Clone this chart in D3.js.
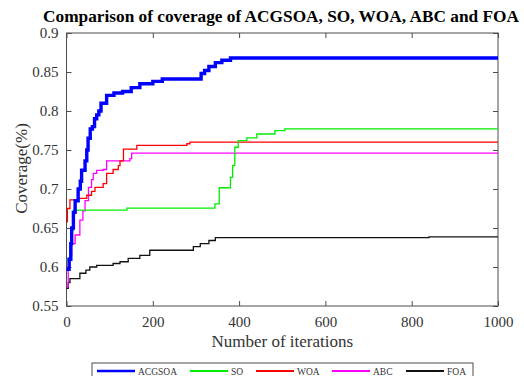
<!DOCTYPE html>
<html>
<head>
<meta charset="utf-8">
<script src="https://cdn.jsdelivr.net/npm/d3@7"></script>
<style>
  body { margin: 0; background: #fff; }
</style>
</head>
<body>
<div class="chart"></div>
<script>
// chart text
var titleText = "Comparison of coverage of ACGSOA, SO, WOA, ABC and FOA";
var xLabel = "Number of iterations";
var yLabel = "Coverage(%)";
var xTicks = [0, 200, 400, 600, 800, 1000];
var yTicks = [0.55, 0.6, 0.65, 0.7, 0.75, 0.8, 0.85, 0.9];
var names = ["ACGSOA", "SO", "WOA", "ABC", "FOA"];
var colors = ["#0000ff", "#00ee00", "#ff0000", "#ff00ff", "#111111"];
var widths = [3.4, 1.3, 1.3, 1.3, 1.3];

// [iteration, coverage]
var acgsoa = [[0,0.597],[6,0.61],[10,0.63],[12,0.65],[16,0.67],[20,0.685],[27,0.70],[32,0.71],[35,0.724],
  [43,0.736],[47,0.75],[50,0.765],[55,0.777],[60,0.78],[65,0.79],[70,0.795],[75,0.80],[80,0.81],
  [93,0.82],[110,0.823],[130,0.825],[150,0.83],[170,0.835],[200,0.838],[222,0.841],[305,0.841],
  [312,0.848],[320,0.852],[330,0.857],[345,0.862],[360,0.865],[380,0.868],[1000,0.868]];
var so = [[0,0.609],[8,0.63],[12,0.647],[16,0.673],[140,0.6755],[344,0.681],[354,0.7016],[380,0.715],
  [385,0.73],[390,0.7535],[398,0.762],[418,0.7655],[441,0.7705],[483,0.7748],[506,0.777],[1000,0.777]];
var woa = [[0,0.658],[2,0.675],[8,0.686],[27,0.688],[47,0.692],[58,0.697],[66,0.702],[85,0.707],
  [93,0.72],[108,0.725],[120,0.73],[124,0.736],[132,0.751],[163,0.756],[279,0.758],[286,0.76],[1000,0.76]];
var abc = [[0,0.575],[4,0.60],[8,0.615],[12,0.63],[20,0.641],[31,0.66],[38,0.672],[43,0.685],
  [51,0.702],[58,0.712],[62,0.72],[70,0.724],[85,0.725],[93,0.736],[147,0.739],[151,0.746],[1000,0.746]];
var foa = [[0,0.5725],[4,0.58],[8,0.585],[31,0.592],[45,0.596],[54,0.60],[70,0.602],[108,0.6045],
  [124,0.6067],[143,0.611],[170,0.615],[193,0.6215],[294,0.626],[310,0.630],[330,0.634],[345,0.6377],
  [838,0.6377],[840,0.6385],[1000,0.6385]];
var series = [acgsoa, so, woa, abc, foa];

var serif = "'Liberation Serif', 'DejaVu Serif', serif";
var svgWidth = 524;
var svgHeight = 376;
var margin = { top: 33, right: 26, bottom: 70, left: 66.5 };
var width = svgWidth - margin.left - margin.right;
var height = svgHeight - margin.top - margin.bottom;

var svg = d3.select(".chart")
  .append("svg")
  .attr("width", svgWidth)
  .attr("height", svgHeight)
  .style("font-family", serif);

var chartGroup = svg.append("g")
  .attr("transform", `translate(${margin.left}, ${margin.top})`);

var x = d3.scaleLinear().domain([0, 1000]).range([0, width]);
var y = d3.scaleLinear().domain([0.55, 0.9]).range([height, 0]);

// axes: MATLAB style, inward ticks on all four sides
var axisColor = "#4d4d4d";
function styleAxis(g) {
  g.attr("font-family", serif).attr("font-size", 15);
  g.select(".domain").remove();
  g.selectAll("line").attr("stroke", axisColor);
  g.selectAll("text").attr("fill", "#333");
}
chartGroup.append("g")
  .attr("transform", `translate(0, ${height})`)
  .call(d3.axisBottom(x).tickValues(xTicks).tickSizeInner(-5).tickSizeOuter(0).tickPadding(10)
    .tickFormat(d => String(d)))
  .call(styleAxis);
chartGroup.append("g")
  .call(d3.axisTop(x).tickValues(xTicks).tickSizeInner(-5).tickSizeOuter(0).tickFormat(""))
  .call(styleAxis);
chartGroup.append("g")
  .call(d3.axisLeft(y).tickValues(yTicks).tickSizeInner(-5).tickSizeOuter(0).tickPadding(8)
    .tickFormat(d => String(d)))
  .call(styleAxis);
chartGroup.append("g")
  .attr("transform", `translate(${width}, 0)`)
  .call(d3.axisRight(y).tickValues(yTicks).tickSizeInner(-5).tickSizeOuter(0).tickFormat(""))
  .call(styleAxis);

chartGroup.append("rect")
  .attr("width", width).attr("height", height)
  .attr("fill", "none").attr("stroke", axisColor).attr("stroke-width", 1);

var line = d3.line()
  .x(d => x(d[0]))
  .y(d => y(d[1]))
  .curve(d3.curveStepAfter);

// draw the thin ones first, ACGSOA on top
[4, 3, 2, 1, 0].forEach(function(i) {
  chartGroup.append("path")
    .datum(series[i])
    .attr("fill", "none")
    .attr("stroke", colors[i])
    .attr("stroke-width", widths[i])
    .attr("d", line);
});

// title and labels
svg.append("text")
  .attr("x", 281)
  .attr("y", 22)
  .attr("text-anchor", "middle")
  .style("font-size", "17.3px")
  .style("font-weight", "bold")
  .text(titleText);

svg.append("text")
  .attr("x", margin.left + width / 2)
  .attr("y", 347)
  .attr("text-anchor", "middle")
  .attr("fill", "#333")
  .style("font-size", "17px")
  .text(xLabel);

svg.append("text")
  .attr("transform", `translate(27, ${margin.top + height / 2 - 1}) rotate(-90)`)
  .attr("text-anchor", "middle")
  .attr("fill", "#333")
  .style("font-size", "17px")
  .text(yLabel);

// legend
var legend = svg.append("g").attr("transform", "translate(92, 363)");
legend.append("rect")
  .attr("width", 381).attr("height", 20)
  .attr("fill", "#fff").attr("stroke", axisColor);
var itemX = [5, 98, 164, 240, 314];
names.forEach(function(n, i) {
  var g = legend.append("g").attr("transform", `translate(${itemX[i]}, 8)`);
  g.append("line").attr("x1", 0).attr("x2", 38)
    .attr("stroke", colors[i]).attr("stroke-width", i === 0 ? 2.5 : 1.8);
  g.append("text").attr("x", 41).attr("y", 3.5)
    .attr("fill", "#333").style("font-size", "9.5px").text(n);
});
</script>
</body>
</html>
